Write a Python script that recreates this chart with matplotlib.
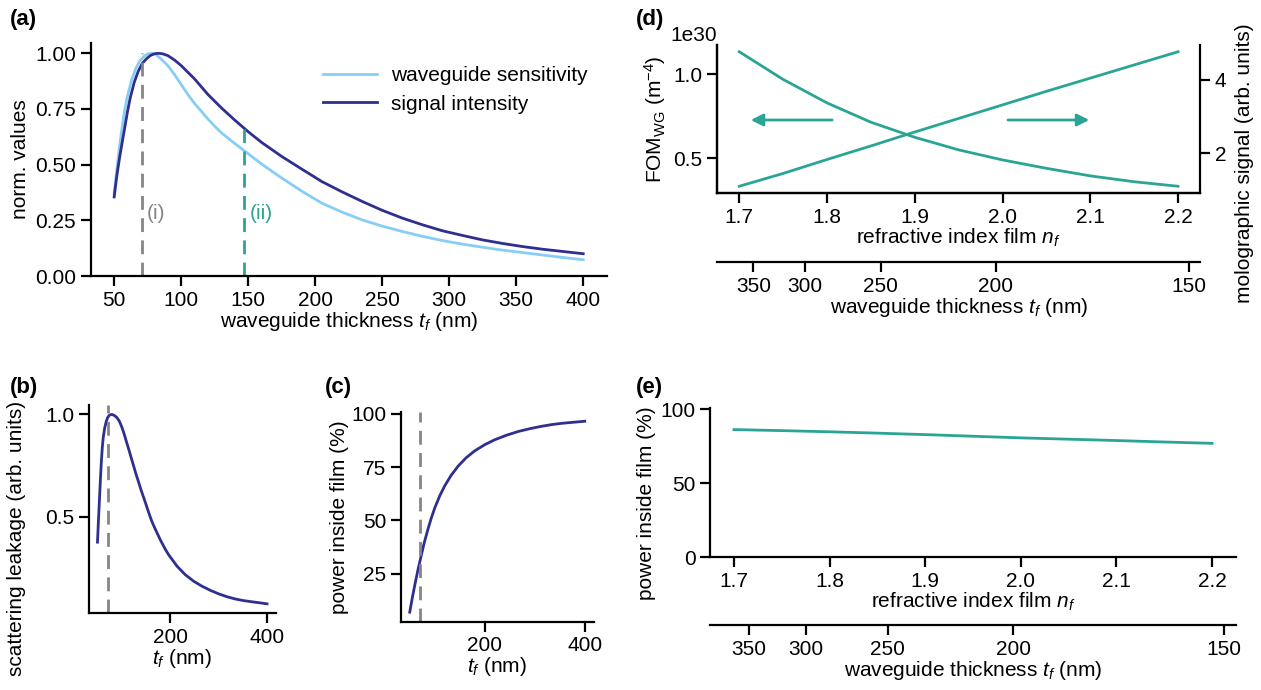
import numpy as np
import matplotlib
matplotlib.use("Agg")
import matplotlib.pyplot as plt

plt.rcParams.update({
    "font.family": ["Liberation Sans", "DejaVu Sans"],
    "font.size": 15,
    "mathtext.fontset": "custom",
    "mathtext.rm": "Liberation Sans",
    "mathtext.it": "Liberation Sans:italic",
    "mathtext.bf": "Liberation Sans:bold",
    "axes.linewidth": 1.6,
    "xtick.major.width": 1.6,
    "ytick.major.width": 1.6,
    "xtick.major.size": 7,
    "ytick.major.size": 7,
    "axes.spines.top": False,
    "axes.spines.right": False,
})

# ---------------- data ----------------
# (a) normalized values vs waveguide thickness (nm)
t_a_ws = [50, 52, 54, 56, 58, 60, 63, 66, 69, 72, 75, 78, 81, 85, 90, 95, 100, 105, 110, 115, 120, 125,
          130, 140, 147, 160, 175, 190, 205, 220, 235, 250, 265, 280, 295, 310, 325, 340, 355, 370,
          385, 400]
wg_sensitivity = [0.37, 0.48, 0.58, 0.67, 0.75, 0.81, 0.88, 0.93, 0.965, 0.985, 0.997, 1.0, 0.995,
                  0.975, 0.945, 0.905, 0.86, 0.815, 0.775, 0.74, 0.705, 0.673, 0.643, 0.595, 0.563,
                  0.503, 0.44, 0.381, 0.327, 0.287, 0.252, 0.224, 0.20, 0.178, 0.159, 0.143, 0.129,
                  0.116, 0.105, 0.094, 0.083, 0.073]
t_a_si = [50, 52, 54, 56, 58, 60, 62, 65, 68, 71, 74, 77, 80, 83, 86, 90, 95, 100, 105, 110, 115, 120,
          130, 140, 150, 160, 175, 190, 205, 220, 235, 250, 265, 280, 295, 310, 325, 340, 355, 370,
          385, 400]
signal_intensity = [0.355, 0.45, 0.53, 0.60, 0.67, 0.74, 0.80, 0.87, 0.92, 0.955, 0.975, 0.99, 0.998,
                    1.0, 0.998, 0.99, 0.97, 0.945, 0.915, 0.885, 0.85, 0.815, 0.755, 0.70, 0.648, 0.60,
                    0.537, 0.48, 0.424, 0.378, 0.335, 0.295, 0.26, 0.23, 0.203, 0.182, 0.162, 0.146,
                    0.132, 0.12, 0.11, 0.10]
t_opt_i = 71     # (i)
t_opt_ii = 147   # (ii)
signal_at_ii = 0.663

# (b) scattering leakage
t_b = [50, 52, 54, 56, 58, 60, 62, 65, 68, 71, 74, 77, 80, 85, 90, 95, 100, 105, 110, 115, 120, 125,
       130, 135, 140, 148, 155, 162, 170, 180, 190, 197, 214, 231, 249, 266, 283, 300, 317, 334, 351,
       369, 385, 400]
scatter_leak = [0.375, 0.48, 0.58, 0.68, 0.77, 0.84, 0.89, 0.935, 0.965, 0.985, 0.995, 0.999, 1.0,
                0.995, 0.985, 0.968, 0.94, 0.905, 0.865, 0.826, 0.785, 0.745, 0.705, 0.668, 0.63,
                0.575, 0.525, 0.478, 0.435, 0.385, 0.34, 0.313, 0.258, 0.216, 0.183, 0.159, 0.139,
                0.122, 0.108, 0.097, 0.089, 0.083, 0.078, 0.073]

# (c) power inside film (%)
t_c = [50, 55, 60, 66, 72, 79, 86, 93, 100, 110, 120, 133, 147, 163, 180, 200, 220, 243, 267, 290,
       313, 333, 353, 376, 400]
power_c = [6.9, 13.5, 19.5, 26.3, 32.5, 39.5, 45.5, 51.0, 55.8, 61.5, 66.2, 71.2, 75.5, 79.4, 82.6,
           85.5, 87.8, 89.9, 91.7, 93.0, 94.1, 94.9, 95.5, 96.0, 96.5]

# (d) FOM and molographic signal vs refractive index of film
n_f = [1.70, 1.75, 1.80, 1.85, 1.90, 1.95, 2.00, 2.05, 2.10, 2.15, 2.20]
fom_wg = [1.135e30, 0.97e30, 0.83e30, 0.715e30, 0.625e30, 0.55e30, 0.49e30, 0.44e30, 0.395e30,
          0.36e30, 0.333e30]
molo_signal = [1.10, 1.45, 1.83, 2.20, 2.58, 2.95, 3.32, 3.69, 4.05, 4.41, 4.77]

# (e) power inside film vs refractive index
power_e = [86.4, 85.7, 84.9, 84.0, 83.0, 81.9, 80.8, 79.9, 79.0, 78.0, 77.1]

# secondary axis: waveguide thickness corresponding to refractive index
thick_labels = [350, 300, 250, 200, 150]
thick_at_n = [1.716, 1.775, 1.861, 1.992, 2.212]

# ---------------- style ----------------
C_LIGHT = "#87cdf5"
C_DARK = "#2e2f8e"
C_TEAL = "#2aa595"
C_GRAY = "#858585"
LW = 2.0
DASH = (0, (5, 3))

W, H = 1261, 690
fig = plt.figure(figsize=(W / 100, H / 100), dpi=100)


def box(l, r, t, b):
    return [l / W, 1 - b / H, (r - l) / W, (b - t) / H]


# ---- (a)
ax_a = fig.add_axes(box(90.7, 606.7, 43, 276))
ax_a.plot(t_a_ws, wg_sensitivity, color=C_LIGHT, lw=LW, label="waveguide sensitivity")
ax_a.plot(t_a_si, signal_intensity, color=C_DARK, lw=LW, label="signal intensity")
ax_a.set_ylim(bottom=0)
ax_a.axvline(t_opt_i, ymin=0, ymax=1.0 / ax_a.get_ylim()[1], color=C_GRAY, lw=LW, ls=DASH)
ax_a.plot([t_opt_ii, t_opt_ii], [0, signal_at_ii], color=C_TEAL, lw=LW, ls=DASH)
ax_a.text(t_opt_i + 3, 0.28, "(i)", color=C_GRAY, ha="left", va="center")
ax_a.text(t_opt_ii + 4, 0.28, "(ii)", color=C_TEAL, ha="left", va="center")
ax_a.set_xticks([50, 100, 150, 200, 250, 300, 350, 400])
ax_a.set_yticks([0.0, 0.25, 0.5, 0.75, 1.0])
ax_a.yaxis.set_major_formatter(matplotlib.ticker.FormatStrFormatter("%.2f"))
ax_a.set_xlabel("waveguide thickness $t_f$ (nm)", labelpad=0)
ax_a.set_ylabel("norm. values")
ax_a.legend(frameon=False, loc="upper right", bbox_to_anchor=(1.0, 0.98), handlelength=2.6,
            handletextpad=0.7, labelspacing=0.45)

# ---- (b)
ax_b = fig.add_axes(box(89, 275.5, 405, 613.3))
ax_b.plot(t_b, scatter_leak, color=C_DARK, lw=LW)
ax_b.axvline(t_opt_i, color=C_GRAY, lw=LW, ls=DASH)
ax_b.set_xticks([200, 400])
ax_b.set_yticks([0.5, 1.0])
ax_b.set_xlabel("$t_f$ (nm)", labelpad=0)
ax_b.set_ylabel("scattering leakage (arb. units)")
ax_b.yaxis.set_label_coords(-0.34, 0.36)

# ---- (c)
ax_c = fig.add_axes(box(401, 593.5, 411.7, 621.7))
ax_c.plot(t_c, power_c, color=C_DARK, lw=LW)
ax_c.axvline(t_opt_i, color=C_GRAY, lw=LW, ls=DASH)
ax_c.set_xticks([200, 400])
ax_c.set_yticks([25, 50, 75, 100])
ax_c.set_xlabel("$t_f$ (nm)", labelpad=0)
ax_c.set_ylabel("power inside film (%)", labelpad=2)

# ---- (d)
ax_d = fig.add_axes(box(717.3, 1200, 45, 193))
ax_d.plot(n_f, fom_wg, color=C_TEAL, lw=LW)
ax_d.set_yticks([0.5e30, 1.0e30])
ax_d.set_ylabel("FOM$_{\\mathrm{WG}}$ (m$^{-4}$)", labelpad=4)
ax_d.set_xticks([1.7, 1.8, 1.9, 2.0, 2.1, 2.2])
ax_d.set_xticklabels(["1.7", "1.8", "1.9", "2.0", "2.1", "2.2"])
ax_d.set_xlabel("refractive index film $n_f$", labelpad=0)
ax_dr = ax_d.twinx()
ax_dr.spines["right"].set_visible(True)
ax_dr.spines["top"].set_visible(False)
ax_dr.plot(n_f, molo_signal, color=C_TEAL, lw=LW)
ax_dr.set_yticks([2, 4])
ax_dr.set_ylabel("molographic signal (arb. units)")
ax_dr.yaxis.set_label_coords(1.072, 0.20)
arrow_y = 0.728e30
ax_d.annotate("", xy=(1.710, arrow_y), xytext=(1.809, arrow_y),
              arrowprops=dict(arrowstyle="-|>", color=C_TEAL, lw=2, mutation_scale=18))
ax_d.annotate("", xy=(2.102, arrow_y), xytext=(2.003, arrow_y),
              arrowprops=dict(arrowstyle="-|>", color=C_TEAL, lw=2, mutation_scale=18))


def thickness_axis(ax, offset_px):
    sec = ax.twiny()
    sec.set_xlim(ax.get_xlim())
    sec.xaxis.set_ticks_position("bottom")
    sec.xaxis.set_label_position("bottom")
    for s in ["top", "left", "right"]:
        sec.spines[s].set_visible(False)
    sec.spines["bottom"].set_visible(True)
    sec.spines["bottom"].set_position(("outward", offset_px * 0.72))
    sec.set_xticks(thick_at_n)
    sec.set_xticklabels([str(v) for v in thick_labels])
    sec.set_xlabel("waveguide thickness $t_f$ (nm)", labelpad=0)
    sec.yaxis.set_visible(False)
    return sec


thickness_axis(ax_d, 69.3)

# ---- (e)
ax_e = fig.add_axes(box(710, 1236, 408, 557.3))
ax_e.plot(n_f, power_e, color=C_TEAL, lw=LW)
ax_e.set_ylim(0, 101)
ax_e.set_yticks([0, 50, 100])
ax_e.set_xticks([1.7, 1.8, 1.9, 2.0, 2.1, 2.2])
ax_e.set_xticklabels(["1.7", "1.8", "1.9", "2.0", "2.1", "2.2"])
ax_e.set_xlabel("refractive index film $n_f$", labelpad=0)
ax_e.set_ylabel("power inside film (%)")
ax_e.yaxis.set_label_coords(-0.102, 0.36)
thickness_axis(ax_e, 67.7)

# panel labels
for lab, x, y in [("(a)", 10, 20), ("(b)", 10, 388), ("(c)", 325, 388), ("(d)", 636, 20), ("(e)", 636, 388)]:
    fig.text(x / W, 1 - y / H, lab, fontsize=16, fontweight="bold", ha="left", va="center")

fig.canvas.draw()
ax_d.yaxis.get_offset_text().set_horizontalalignment("right")

fig.savefig("out.png", dpi=100)
